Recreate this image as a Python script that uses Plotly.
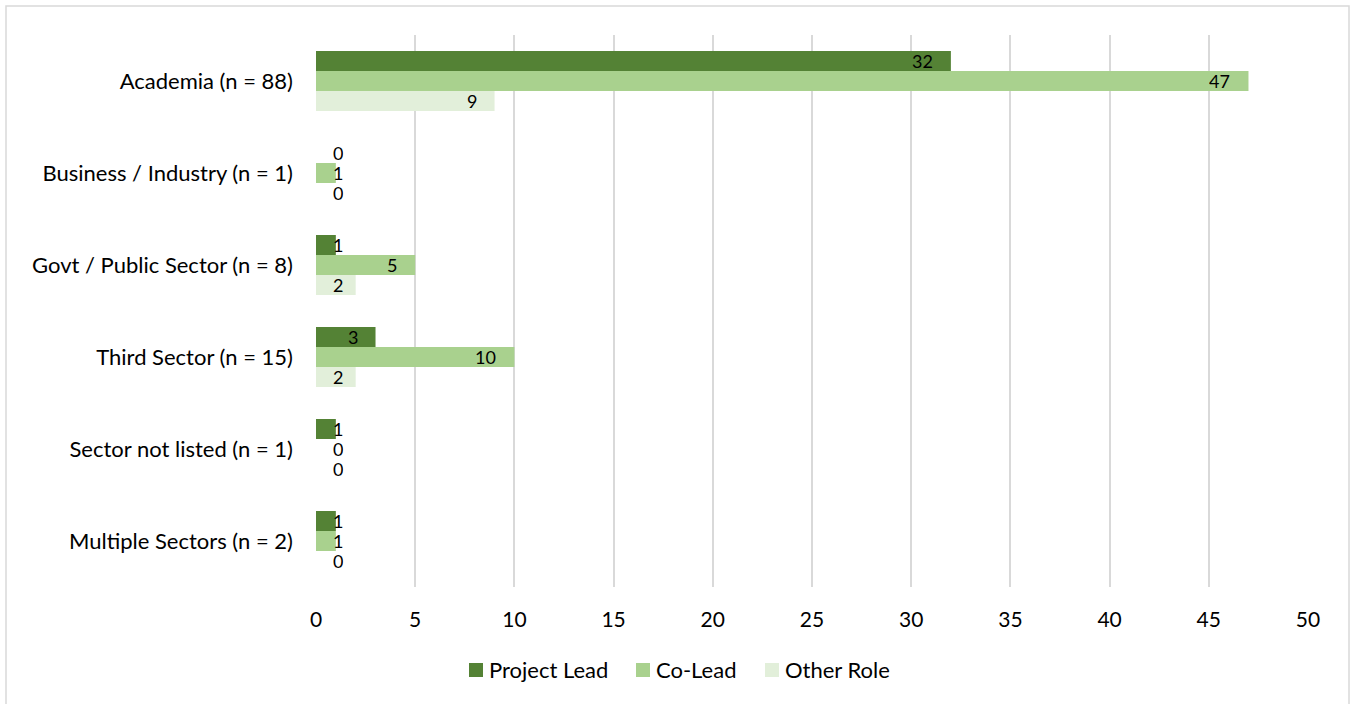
import plotly.graph_objects as go

# Respondent sector and role counts
categories = [
    "Academia (n = 88)",
    "Business / Industry (n = 1)",
    "Govt / Public Sector (n = 8)",
    "Third Sector (n = 15)",
    "Sector not listed (n = 1)",
    "Multiple Sectors (n = 2)",
]
series_names = ["Project Lead", "Co-Lead", "Other Role"]
project_lead = [32, 0, 1, 3, 1, 1]
co_lead = [47, 1, 5, 10, 0, 1]
other_role = [9, 0, 2, 2, 0, 0]
x_ticks = [0, 5, 10, 15, 20, 25, 30, 35, 40, 45, 50]

series_values = [project_lead, co_lead, other_role]
colors = ["#548235", "#A9D18E", "#E2EFDA"]

FONT = "Lato, 'Gill Sans', sans-serif"
FS = 22
FS_VAL = 18

# plot-area geometry (pixels) used to place value labels and legend
L, R, T, B = 316, 43, 35, 117
W, H = 1351, 704
plot_w = W - L - R
plot_h = H - T - B
px_per_unit = plot_w / 50
bar_px = 20


def px_to_paper_x(px):
    return (px - L) / plot_w


def px_to_paper_y(py):
    return (H - B - py) / plot_h


fig = go.Figure()
for name, vals, col in zip(series_names, series_values, colors):
    fig.add_trace(go.Bar(
        y=categories, x=vals, name=name, orientation="h",
        marker=dict(color=col, line=dict(width=0)),
        showlegend=False,
    ))

annotations = []
for i, vals in enumerate(series_values):
    yshift = (1 - i) * bar_px
    for cat, v in zip(categories, vals):
        end_px = v * px_per_unit
        if end_px < 44:
            ann = dict(x=0, xanchor="center", xshift=22)
        else:
            ann = dict(x=v, xanchor="right", xshift=-17)
        ann.update(
            y=cat, yshift=yshift, yanchor="middle", text=str(v),
            showarrow=False, xref="x", yref="y",
            borderpad=0, height=18, valign="middle",
            font=dict(family=FONT, size=FS_VAL, color="#000000"),
        )
        annotations.append(ann)

# legend row: colour swatch followed by series name
shapes = []
legend_x = [469, 636, 765]
legend_y = 670
for name, col, lx in zip(series_names, colors, legend_x):
    shapes.append(dict(
        type="rect", xref="paper", yref="paper",
        x0=px_to_paper_x(lx), x1=px_to_paper_x(lx + 14),
        y0=px_to_paper_y(legend_y + 7), y1=px_to_paper_y(legend_y - 7),
        fillcolor=col, line=dict(width=0),
    ))
    annotations.append(dict(
        x=px_to_paper_x(lx + 18), y=px_to_paper_y(legend_y),
        xref="paper", yref="paper", xanchor="left", yanchor="middle",
        text=name, showarrow=False,
        font=dict(family=FONT, size=FS, color="#000000"),
    ))

# chart outline
shapes.append(dict(
    type="rect", xref="paper", yref="paper",
    x0=px_to_paper_x(6), x1=px_to_paper_x(1349),
    y0=px_to_paper_y(706), y1=px_to_paper_y(6),
    line=dict(color="#d9d9d9", width=1.5), fillcolor="rgba(0,0,0,0)",
    layer="below",
))

fig.update_layout(
    width=W, height=H,
    margin=dict(l=L, r=R, t=T, b=B, pad=0),
    paper_bgcolor="white", plot_bgcolor="white",
    barmode="group", bargap=0.348, bargroupgap=0,
    font=dict(family=FONT, size=FS, color="#000000"),
    showlegend=False,
    xaxis=dict(
        range=[0, 50], tickvals=x_ticks, showgrid=True,
        gridcolor="#d9d9d9", gridwidth=1.5, zeroline=False,
        showline=False, ticks="", ticklabelstandoff=18,
        tickfont=dict(family=FONT, size=21, color="#000000"),
    ),
    yaxis=dict(
        autorange="reversed", showgrid=False, zeroline=False,
        showline=False, ticks="", ticklabelstandoff=22,
        tickfont=dict(family=FONT, size=FS, color="#000000"),
    ),
    annotations=annotations,
    shapes=shapes,
)

fig.write_html("out.html")
